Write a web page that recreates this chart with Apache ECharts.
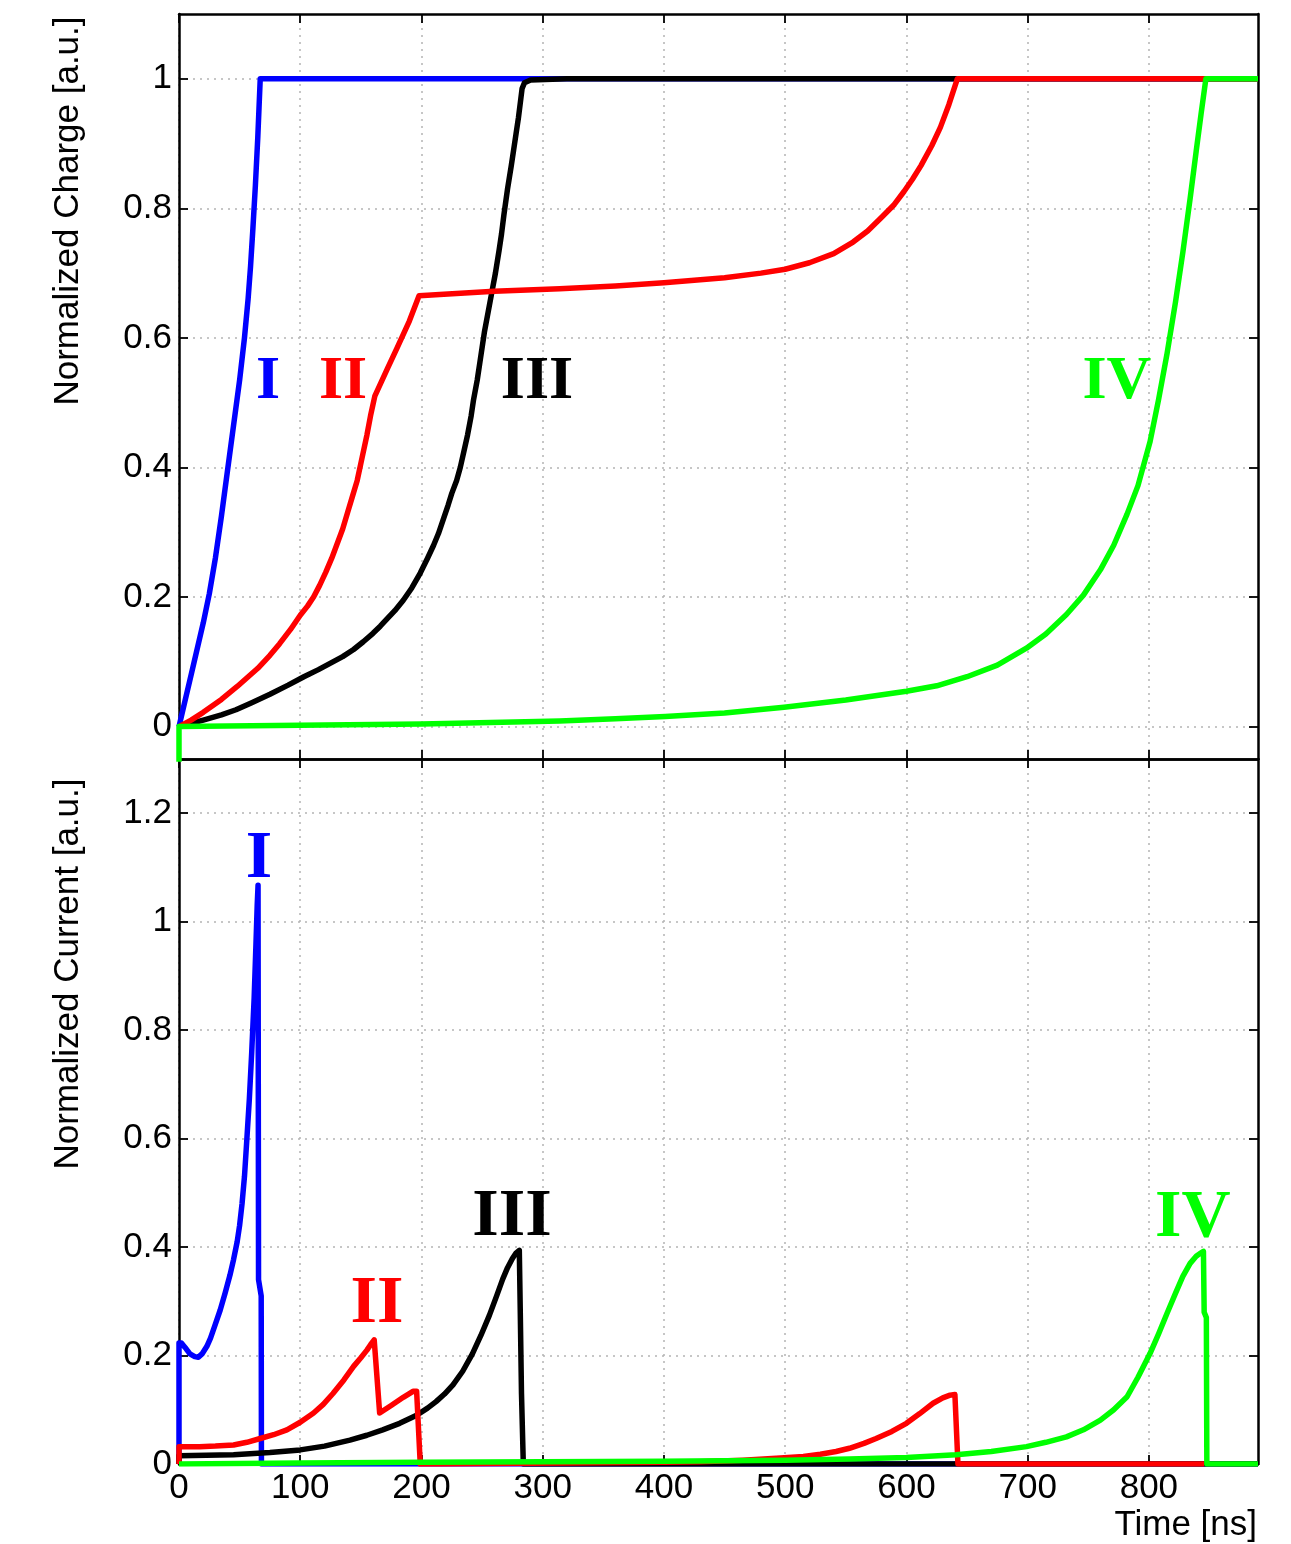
<!DOCTYPE html>
<html>
<head>
<meta charset="utf-8">
<title>Normalized charge and current</title>
<script src="https://cdn.jsdelivr.net/npm/echarts@6/dist/echarts.min.js"></script>
<style>
  html, body { margin: 0; padding: 0; background: #ffffff; }
  #chart { width: 1291px; height: 1544px; }
</style>
</head>
<body>
<div id="chart"></div>
<script>
// ---- data: [time (ns), value] ----
// Normalized charge
const chargeI = [[0,0],[5,0.04],[10,0.08],[15,0.12],[20,0.16],[25,0.205],[30,0.26],[35,0.325],[40,0.395],[45,0.465],[50,0.535],[54,0.60],[57,0.66],[59,0.71],[61,0.77],[63,0.835],[65,0.91],[66,0.955],[67,1.0],[890,1.0]];
const chargeII = [[0,0],[10,0.01],[20,0.022],[35,0.042],[48,0.062],[65,0.09],[75,0.11],[83,0.128],[92,0.15],[100,0.172],[106,0.186],[111,0.20],[116,0.218],[121,0.238],[126,0.26],[130,0.28],[135,0.305],[139,0.33],[143,0.355],[147,0.38],[151,0.415],[155,0.45],[158,0.48],[161.5,0.51],[172,0.553],[180,0.585],[190,0.626],[198,0.665],[205,0.666],[215,0.667],[260,0.672],[314,0.676],[360,0.68],[400,0.685],[450,0.693],[480,0.70],[500,0.706],[520,0.716],[540,0.73],[556,0.748],[568,0.765],[580,0.787],[590,0.806],[598,0.826],[605,0.845],[612,0.866],[621,0.897],[628,0.925],[635,0.96],[642,1.0],[890,1.0]];
const chargeIII = [[0,0],[10,0.005],[20,0.010],[35,0.018],[47,0.026],[60,0.037],[75,0.05],[90,0.064],[103,0.077],[115,0.088],[125,0.098],[135,0.108],[144,0.119],[152,0.131],[160,0.144],[166,0.155],[171,0.165],[178,0.179],[185,0.195],[192,0.214],[199,0.237],[205,0.26],[210,0.28],[214,0.298],[218,0.32],[222,0.342],[225,0.36],[229,0.38],[232,0.40],[235,0.425],[238,0.45],[241,0.48],[243,0.505],[246,0.535],[248,0.56],[250,0.585],[252,0.61],[256,0.65],[258,0.67],[261,0.70],[264,0.735],[266,0.76],[268,0.79],[271,0.83],[274,0.865],[276,0.89],[278,0.915],[280,0.94],[282,0.97],[283,0.985],[285,0.994],[290,0.998],[320,1.0],[890,1.0]];
const chargeIV = [[0,-0.06],[0,0],[100,0.002],[200,0.004],[314,0.0085],[360,0.012],[401,0.0156],[450,0.021],[499,0.030],[550,0.041],[600,0.0545],[625,0.063],[650,0.077],[675,0.095],[699,0.121],[715,0.143],[732,0.173],[746,0.203],[760,0.242],[771,0.28],[782,0.328],[791,0.372],[801,0.44],[808,0.505],[815,0.576],[822,0.656],[828,0.732],[834,0.815],[839,0.888],[843,0.945],[847,1.0],[890,1.0]];

// Normalized current
const currentI = [[0,0],[0,0.223],[2,0.223],[5,0.215],[9,0.203],[13,0.198],[16,0.197],[19,0.203],[23,0.217],[26,0.232],[30,0.258],[34,0.284],[38,0.315],[42,0.348],[45,0.377],[48,0.41],[50,0.44],[52,0.48],[54,0.53],[56,0.6],[58,0.672],[60,0.76],[62,0.86],[63.5,0.96],[64.5,1.03],[65.2,1.067],[65.6,0.34],[67.8,0.31],[68,0],[890,0]];
const currentII = [[0,0],[0,0.032],[17,0.032],[30,0.033],[45,0.035],[56,0.04],[67,0.047],[78,0.054],[89,0.063],[100,0.077],[111,0.094],[119,0.11],[127,0.13],[136,0.155],[144,0.18],[150,0.196],[155,0.21],[158,0.22],[161,0.229],[165.5,0.094],[175,0.108],[185,0.123],[193,0.134],[196,0.134],[199,0],[215,0],[260,0.001],[320,0.002],[400,0.003],[430,0.004],[465,0.007],[496,0.011],[515,0.014],[529,0.018],[542,0.023],[553,0.029],[565,0.038],[575,0.047],[588,0.06],[600,0.075],[611,0.093],[622,0.112],[630,0.122],[636,0.127],[640,0.128],[642.5,0],[845.5,0]];
const currentIII = [[0,0],[0,0.015],[45,0.017],[75,0.021],[100,0.026],[120,0.033],[141,0.044],[155,0.053],[168,0.063],[182,0.075],[196,0.09],[205,0.103],[212,0.115],[219,0.129],[226,0.146],[234,0.171],[242,0.203],[249,0.237],[256,0.274],[262,0.31],[267,0.341],[271,0.362],[275,0.379],[278,0.389],[280.7,0.394],[281.5,0.28],[282.5,0.13],[284,0],[890,0]];
const currentIV = [[0,0],[100,0.002],[200,0.003],[300,0.004],[400,0.005],[500,0.007],[553,0.009],[600,0.012],[641,0.017],[670,0.023],[699,0.032],[715,0.04],[732,0.05],[746,0.063],[760,0.081],[771,0.1],[782,0.124],[791,0.16],[796,0.182],[801,0.204],[808,0.24],[815,0.278],[822,0.315],[828,0.346],[834,0.37],[839,0.383],[842,0.388],[845,0.392],[845.6,0.28],[847.4,0.27],[847.8,0],[890,0]];

// ---- ticks ----
const timeTicks = [0,100,200,300,400,500,600,700,800];
const chargeTicks = [0,0.2,0.4,0.6,0.8,1];
const currentTicks = [0,0.2,0.4,0.6,0.8,1,1.2];

// ---- case tags placed at data coordinates: [text, time, value] ----
const chargeTags = [['I',73.4,0.532],['II',135.3,0.532],['III',295.3,0.532],['IV',773.6,0.532]];
const currentTags = [['I',66,1.115],['II',163.3,0.294],['III',274.6,0.454],['IV',836.3,0.452]];

const caseColors = { I: '#0000ff', II: '#ff0000', III: '#000000', IV: '#00ff00' };

const sansFont = '"Liberation Sans", Arial, Helvetica, sans-serif';
const serifFont = '"Liberation Serif", "Times New Roman", serif';

const frame = { show: true, onZero: false, lineStyle: { color: '#000', width: 2.5 } };
const grid = { show: true, lineStyle: { color: '#b4b4b4', width: 1.5, type: [2, 5] } };

function tickCfg(values) {
  return { show: true, inside: true, length: 9, customValues: values, lineStyle: { color: '#000', width: 1.8 } };
}
function labelCfg(values) {
  return { show: true, customValues: values, color: '#000', fontFamily: sansFont, fontSize: 35, margin: 7,
           formatter: v => String(+v.toFixed(2)) };
}

function xAxisFor(gridIndex, position, showLabels) {
  return {
    type: 'value', gridIndex, position, min: 0, max: 890,
    axisLine: frame,
    axisTick: tickCfg(timeTicks),
    axisLabel: showLabels ? labelCfg(timeTicks) : { show: false },
    splitLine: position === 'bottom' ? grid : { show: false }
  };
}
function yAxisFor(gridIndex, position, min, max, ticks, showLabels) {
  return {
    type: 'value', gridIndex, position, min, max,
    axisLine: frame,
    axisTick: tickCfg(ticks),
    axisLabel: showLabels ? labelCfg(ticks) : { show: false },
    splitLine: position === 'left' ? grid : { show: false }
  };
}

function line(data, color, xi, yi, z) {
  return {
    type: 'line', data, xAxisIndex: xi, yAxisIndex: yi,
    showSymbol: false, symbol: 'none', smooth: false, clip: true, z,
    lineStyle: { color, width: 5.5, join: 'round', cap: 'butt' },
    emphasis: { disabled: true }, silent: true
  };
}

const option = {
  animation: false,
  backgroundColor: '#ffffff',
  grid: [
    { left: 179, top: 14, width: 1079, height: 745, show: false },
    { left: 179, top: 759, width: 1079, height: 705, show: false }
  ],
  xAxis: [
    xAxisFor(0, 'bottom', false),
    xAxisFor(0, 'top', false),
    xAxisFor(1, 'bottom', true),
    xAxisFor(1, 'top', false)
  ],
  yAxis: [
    yAxisFor(0, 'left', -0.05, 1.1, chargeTicks, true),
    yAxisFor(0, 'right', -0.05, 1.1, chargeTicks, false),
    yAxisFor(1, 'left', 0, 1.3, currentTicks, true),
    yAxisFor(1, 'right', 0, 1.3, currentTicks, false)
  ],
  series: [
    line(chargeI, caseColors.I, 0, 0, 2),
    line(chargeIII, caseColors.III, 0, 0, 3),
    line(chargeII, caseColors.II, 0, 0, 4),
    line(chargeIV, caseColors.IV, 0, 0, 5),
    line(currentI, caseColors.I, 2, 2, 2),
    line(currentIII, caseColors.III, 2, 2, 3),
    line(currentII, caseColors.II, 2, 2, 4),
    line(currentIV, caseColors.IV, 2, 2, 5)
  ]
};

const chart = echarts.init(document.getElementById('chart'), null, { renderer: 'canvas' });
chart.setOption(option);

// Titles and case tags
const graphics = [
  { type: 'text', x: 68, y: 211, rotation: Math.PI / 2, z: 10,
    style: { text: 'Normalized Charge [a.u.]', font: '35px ' + sansFont, fill: '#000', align: 'center', verticalAlign: 'middle' } },
  { type: 'text', x: 68, y: 974, rotation: Math.PI / 2, z: 10,
    style: { text: 'Normalized Current [a.u.]', font: '35px ' + sansFont, fill: '#000', align: 'center', verticalAlign: 'middle' } },
  { type: 'text', x: 1257, y: 1525, z: 10,
    style: { text: 'Time [ns]', font: '35px ' + sansFont, fill: '#000', align: 'right', verticalAlign: 'middle' } }
];
chargeTags.forEach(([txt, t, v]) => {
  const [px, py] = chart.convertToPixel({ xAxisIndex: 0, yAxisIndex: 0 }, [t, v]);
  graphics.push({ type: 'text', x: px, y: py, z: 10,
    style: { text: txt, font: 'bold 62px ' + serifFont, fill: caseColors[txt], align: 'center', verticalAlign: 'middle' } });
});
currentTags.forEach(([txt, t, v]) => {
  const [px, py] = chart.convertToPixel({ xAxisIndex: 2, yAxisIndex: 2 }, [t, v]);
  graphics.push({ type: 'text', x: px, y: py, z: 10,
    style: { text: txt, font: 'bold 68px ' + serifFont, fill: caseColors[txt], align: 'center', verticalAlign: 'middle' } });
});
chart.setOption({ graphic: graphics });
</script>
</body>
</html>
